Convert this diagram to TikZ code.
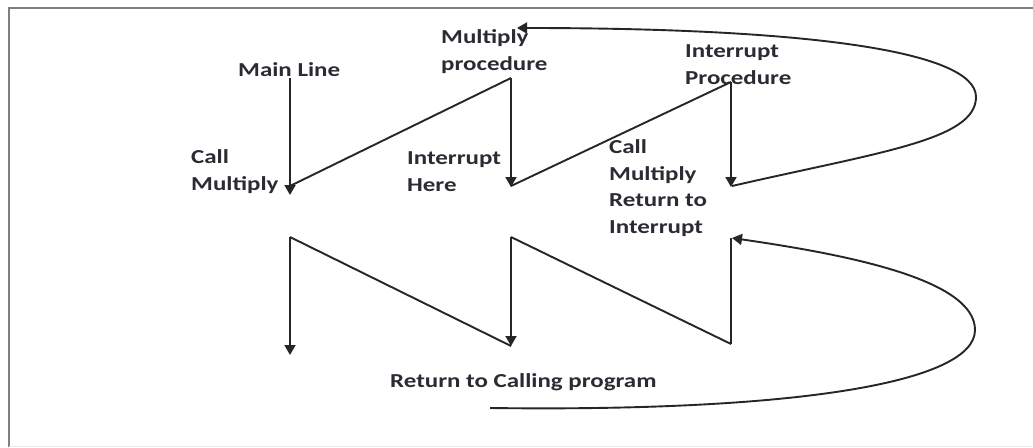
\documentclass[tikz,border=0pt]{standalone}
\usepackage{fontspec}
\setmainfont[FakeStretch=1.26,BoldFont={Carlito Bold}]{Carlito}
\usetikzlibrary{arrows.meta}
\definecolor{ink}{HTML}{262626}
\definecolor{txt}{HTML}{2B2B33}
\definecolor{framec}{HTML}{7F7F7F}
\tikzset{
  lbl/.style={anchor=base west, inner sep=0pt, align=left, text=txt,
    font=\fontsize{19.8}{26.5}\selectfont\bfseries},
  flow/.style={draw=ink, line width=1.9pt},
  tipped/.style={flow, -{Triangle[width=11pt,length=10pt]}},
}
\begin{document}
\begin{tikzpicture}[x=1pt,y=-1pt]
\useasboundingbox (0,0) rectangle (1033,447);
\fill[white] (0,0) rectangle (1033,447);
% page frame
\draw[framec, line width=2.5pt] (9,447) -- (9,8) -- (1033,8);
\draw[gray!15, line width=1pt] (9,446) -- (1033,446);

% labels (placed by the baseline of their last line)
\node[lbl] (mainline) at (238,76) {Main Line};
\node[lbl] (mulproc) at (441,70) {Multiply\\procedure};
\node[lbl] (intproc) at (685,84) {Interrupt\\Procedure};
\node[lbl] (callmul) at (191,190) {Call\\Multiply};
\node[lbl] (inthere) at (407,191) {Interrupt\\Here};
\node[lbl] (callret) at (609,233) {Call\\Multiply\\Return to\\Interrupt};
\node[lbl] (retcall) at (390,387) {Return to Calling program};

% call path
\coordinate (ml) at (290,78);
\coordinate (cm) at (290,195);
\coordinate (mp) at (511,78);
\coordinate (ih) at (511,187);
\coordinate (ip) at (731,82);
\coordinate (ci) at (731,187);
\coordinate (mpin) at (517,28);

\draw[tipped] (ml) -- (cm);
\draw[flow] ([yshift=9pt]cm) -- (mp);
\draw[tipped] (mp) -- (ih);
\draw[flow] ([yshift=1pt]ih) -- (ip);
\draw[tipped] (ip) -- (ci);
\draw[tipped] ([xshift=1pt,yshift=1pt]ci) .. controls (880,152) and (976,140) .. (976,97)
  .. controls (976,50) and (800,28) .. (mpin);

% return path
\coordinate (r0) at (290,237);
\coordinate (r0e) at (290,355);
\coordinate (r1) at (511,237);
\coordinate (r1e) at (511,346);
\coordinate (r2) at (731,238);
\coordinate (r2b) at (731,344);
\coordinate (rc) at (490,408);

\draw[tipped] (r0) -- (r0e);
\draw[flow] (r0) -- (r1e);
\draw[tipped] (r1) -- (r1e);
\draw[flow] (r1) -- (r2b);
\draw[flow] (r2b) -- (r2);
\draw[tipped] (rc) .. controls (800,412) and (975,382) .. (975,330)
  .. controls (975,280) and (850,255) .. ([xshift=1pt]r2);
\end{tikzpicture}
\end{document}
